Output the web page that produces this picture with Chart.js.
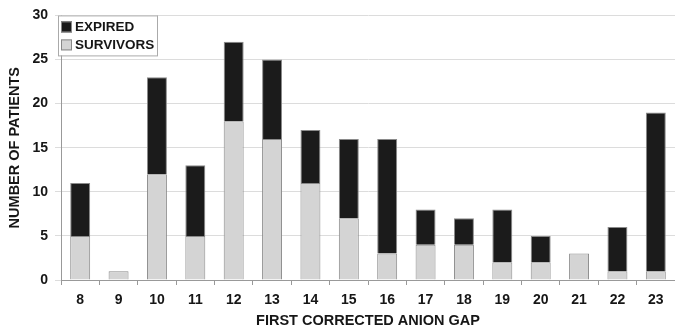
<!DOCTYPE html>
<html>
<head>
<meta charset="utf-8">
<script src="https://cdn.jsdelivr.net/npm/chart.js@4/dist/chart.umd.min.js"></script>
<style>
  html, body { margin: 0; padding: 0; background: #fff; }
  #wrap { width: 675px; height: 331px; }
</style>
</head>
<body>
<div id="wrap"><canvas id="gapChart" width="675" height="331"></canvas></div>
<script>
// Data
const gapValues = ['8', '9', '10', '11', '12', '13', '14', '15', '16', '17', '18', '19', '20', '21', '22', '23'];
const survivors = [5, 1, 12, 5, 18, 16, 11, 7, 3, 4, 4, 2, 2, 3, 1, 1];
const expired = [6, 0, 11, 8, 9, 9, 6, 9, 13, 4, 3, 6, 3, 0, 5, 18];
const yTicks = [0, 5, 10, 15, 20, 25, 30];

const textColor = '#161616';
const fontFamily = '"Liberation Sans", Arial, sans-serif';

// Legend box drawn in the top-left corner of the plot
const boxLegend = {
    id: 'boxLegend',
    afterDraw(chart) {
        const ctx = chart.ctx;
        const area = chart.chartArea;
        const x = area.left - 3, y = area.top;
        const items = chart.data.datasets.slice().reverse();
        ctx.save();
        ctx.fillStyle = '#fff';
        ctx.fillRect(x, y, 99, 40);
        ctx.strokeStyle = '#aaa';
        ctx.lineWidth = 1;
        ctx.strokeRect(x + 0.5, y + 0.5, 99, 40);
        ctx.font = 'bold 13.5px ' + fontFamily;
        ctx.textBaseline = 'middle';
        items.forEach((ds, i) => {
            const cy = y + 11 + i * 18;
            ctx.fillStyle = ds.backgroundColor;
            ctx.fillRect(x + 3, cy - 5, 11, 11);
            ctx.strokeStyle = '#888';
            ctx.strokeRect(x + 3.5, cy - 4.5, 10, 10);
            ctx.fillStyle = textColor;
            ctx.fillText(ds.label, x + 17, cy + 1);
        });
        ctx.restore();
    }
};

new Chart(document.getElementById('gapChart'), {
    type: 'bar',
    data: {
        labels: gapValues,
        datasets: [
            {
                label: 'SURVIVORS',
                data: survivors,
                backgroundColor: '#d4d4d4',
                borderColor: '#8a8a8a',
                borderWidth: 1,
                barPercentage: 0.52,
                categoryPercentage: 1
            },
            {
                label: 'EXPIRED',
                data: expired,
                backgroundColor: '#1b1b1b',
                borderColor: '#8a8a8a',
                borderWidth: 1,
                barPercentage: 0.52,
                categoryPercentage: 1
            }
        ]
    },
    options: {
        responsive: false,
        animation: false,
        layout: { padding: { top: 14, right: 0, left: 0, bottom: 0 } },
        plugins: {
            legend: { display: false },
            tooltip: { enabled: false }
        },
        scales: {
            x: {
                stacked: true,
                afterFit(scale) { scale.height = 51; },
                grid: {
                    display: true,
                    offset: true,
                    drawOnChartArea: false,
                    drawTicks: true,
                    tickLength: 5,
                    color: '#999'
                },
                border: { display: true, color: '#999' },
                ticks: {
                    color: textColor,
                    font: { family: fontFamily, size: 14, weight: 'bold' },
                    padding: 7,
                    maxRotation: 0
                },
                title: {
                    display: true,
                    text: 'FIRST CORRECTED ANION GAP',
                    color: textColor,
                    font: { family: fontFamily, size: 14.5, weight: 'bold' },
                    padding: { top: 0, bottom: 1 }
                }
            },
            y: {
                stacked: true,
                min: 0,
                max: 30,
                afterFit(scale) { scale.width = 61; },
                afterBuildTicks(scale) { scale.ticks = yTicks.map(v => ({ value: v })); },
                grid: {
                    color: '#dcdcdc',
                    tickLength: 6,
                    lineWidth: 1
                },
                border: { display: true, color: '#999' },
                ticks: {
                    color: textColor,
                    font: { family: fontFamily, size: 14, weight: 'bold' },
                    padding: 7
                },
                title: {
                    display: true,
                    text: 'NUMBER OF PATIENTS',
                    color: textColor,
                    font: { family: fontFamily, size: 14.5, weight: 'bold' },
                    padding: { top: 6, bottom: 4 }
                }
            }
        }
    },
    plugins: [boxLegend]
});
</script>
</body>
</html>
